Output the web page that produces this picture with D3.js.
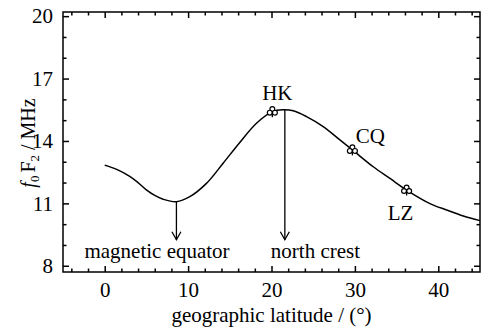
<!DOCTYPE html>
<html lang="en">
<head>
  <meta charset="UTF-8" />
  <title>foF2 vs latitude</title>
  <script src="https://d3js.org/d3.v7.min.js"></script>
  <style>
    body { margin: 0; background: #fff; }
    svg { display: block; }
    svg text { font-family: "Liberation Serif", "DejaVu Serif", serif; fill: #000; }
    .axis path, .axis line { stroke: #000; stroke-width: 1.5px; }
    .axis text { font-size: 21px; }
  </style>
</head>
<body>
  <svg id="chart" width="491" height="329"></svg>
  <script>
    // curve
    const latitude = [0, 1.5, 3, 4, 5, 6, 7, 8.6, 10.2, 12.2, 14.2, 16.2, 18.2, 20.1, 21.4, 22.6, 24.2, 26.2, 28.2, 29.7, 32.2, 34.2, 36.2, 39, 41, 43, 45];
    const fof2 = [12.84, 12.62, 12.3, 12.0, 11.65, 11.38, 11.2, 11.08, 11.32, 11.96, 12.93, 13.93, 14.85, 15.41, 15.5, 15.45, 15.17, 14.69, 14.05, 13.57, 12.76, 12.2, 11.64, 10.99, 10.68, 10.39, 10.17];

    // stations
    const stations = ["HK", "CQ", "LZ"];
    const stationLat = [20.1, 29.7, 36.2];
    const stationFof2 = [15.41, 13.57, 11.64];

    // annotations
    const markLabels = ["magnetic equator", "north crest"];
    const markLat = [8.6, 21.6];

    const xTicks = [0, 10, 20, 30, 40];
    const yTicks = [8, 11, 14, 17, 20];

    const svg = d3.select("#chart");
    const m = { left: 63, right: 480, top: 12, bottom: 272 };

    const x = d3.scaleLinear().domain([-5, 45]).range([m.left, m.right]);
    const y = d3.scaleLinear().domain([7.7, 20.2]).range([m.bottom, m.top]);

    const xMinor = d3.range(-4, 45, 2).filter(v => v % 10 !== 0);
    const yMinor = d3.range(8, 21, 1).filter(v => (v - 8) % 3 !== 0);

    // frame
    svg.append("rect")
      .attr("x", m.left).attr("y", m.top)
      .attr("width", m.right - m.left).attr("height", m.bottom - m.top)
      .attr("fill", "none").attr("stroke", "#000").attr("stroke-width", 1.5);

    function addAxis(axisFn, scale, ticks, size, pos, labels) {
      const a = axisFn(scale).tickValues(ticks).tickSizeInner(-size).tickSizeOuter(0);
      if (!labels) a.tickFormat("");
      else a.tickPadding(size + 4);
      const g = svg.append("g").attr("class", "axis")
        .attr("transform", pos).call(a);
      g.select(".domain").remove();
      g.attr("font-family", null);
      return g;
    }

    // bottom / top
    addAxis(d3.axisBottom, x, xTicks, 6, `translate(0,${m.bottom})`, true);
    addAxis(d3.axisBottom, x, xMinor, 3.5, `translate(0,${m.bottom})`, false);
    addAxis(d3.axisTop, x, xTicks, 6, `translate(0,${m.top})`, false);
    addAxis(d3.axisTop, x, xMinor, 3.5, `translate(0,${m.top})`, false);
    // left / right
    addAxis(d3.axisLeft, y, yTicks, 6, `translate(${m.left},0)`, true);
    addAxis(d3.axisLeft, y, yMinor, 3.5, `translate(${m.left},0)`, false);
    addAxis(d3.axisRight, y, yTicks, 6, `translate(${m.right},0)`, false);
    addAxis(d3.axisRight, y, yMinor, 3.5, `translate(${m.right},0)`, false);

    // axis titles
    svg.append("text")
      .attr("x", (m.left + m.right) / 2).attr("y", 322)
      .attr("text-anchor", "middle").attr("font-size", 21)
      .text("geographic latitude / (°)");

    const yt = svg.append("text")
      .attr("transform", `translate(35,143) rotate(-90)`)
      .attr("text-anchor", "middle").attr("font-size", 20);
    yt.append("tspan").attr("font-style", "italic").text("f");
    yt.append("tspan").attr("font-size", 13).attr("dy", 4).text("0");
    yt.append("tspan").attr("dy", -4).attr("dx", 3).text("F");
    yt.append("tspan").attr("font-size", 13).attr("dy", 4).text("2");
    yt.append("tspan").attr("dy", -4).text(" / MHz");

    // curve
    const pts = latitude.map((d, i) => [d, fof2[i]]);
    const line = d3.line().x(d => x(d[0])).y(d => y(d[1])).curve(d3.curveCatmullRom);
    svg.append("path").datum(pts)
      .attr("d", line).attr("fill", "none")
      .attr("stroke", "#000").attr("stroke-width", 1.5);

    // arrows
    const curveAt = d3.scaleLinear().domain(latitude).range(fof2);
    const tipVal = 9.25;
    markLat.forEach((lat, i) => {
      const cx = x(lat);
      const y0 = y(curveAt(lat)), y1 = y(tipVal);
      svg.append("line").attr("x1", cx).attr("x2", cx)
        .attr("y1", y0).attr("y2", y1)
        .attr("stroke", "#000").attr("stroke-width", 1.3);
      svg.append("path")
        .attr("d", `M${cx - 4.5},${y1 - 8}L${cx},${y1}L${cx + 4.5},${y1 - 8}`)
        .attr("fill", "none").attr("stroke", "#000").attr("stroke-width", 1.3);
    });
    svg.append("text").attr("x", x(markLat[0]) - 92).attr("y", 258)
      .attr("font-size", 21).text(markLabels[0]);
    svg.append("text").attr("x", x(markLat[1]) - 14).attr("y", 258)
      .attr("font-size", 21).text(markLabels[1]);

    // station markers (open club shape)
    const labelOffset = [[5, -12], [18, -7], [-6, 30]];
    stations.forEach((s, i) => {
      const cx = x(stationLat[i]), cy = y(stationFof2[i]);
      const g = svg.append("g").attr("transform", `translate(${cx},${cy})`);
      g.append("line").attr("x1", 0).attr("x2", 0).attr("y1", 0).attr("y2", 5.5)
        .attr("stroke", "#000").attr("stroke-width", 1.3);
      [[0, -2.6], [-2.6, 1], [2.6, 1]].forEach(c => {
        g.append("circle").attr("cx", c[0]).attr("cy", c[1]).attr("r", 2.4)
          .attr("fill", "#fff").attr("stroke", "#000").attr("stroke-width", 1.2);
      });
      svg.append("text")
        .attr("x", cx + labelOffset[i][0]).attr("y", cy + labelOffset[i][1])
        .attr("text-anchor", "middle").attr("font-size", 21).text(s);
    });
  </script>
</body>
</html>
